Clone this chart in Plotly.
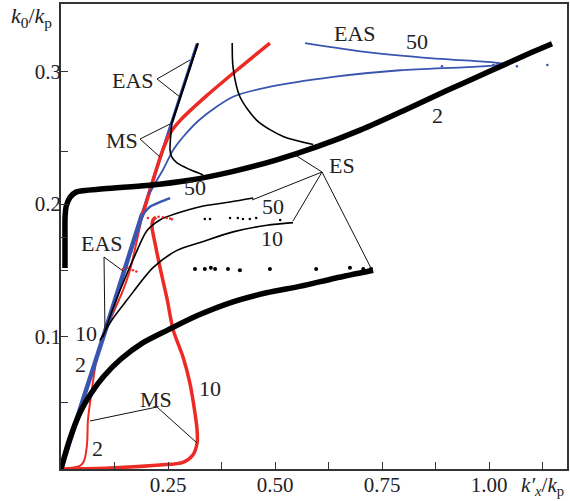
import plotly.graph_objects as go

# ---------------- data (in k'_x/k_p , k_0/k_p units) ----------------
# black ES curve "2" (upper, thick)
es2_up_x = [0.0093, 0.0093, 0.0095, 0.012, 0.021, 0.035, 0.10, 0.20, 0.30, 0.40, 0.50, 0.60, 0.70, 0.80, 0.90, 1.00, 1.10, 1.147]
es2_up_y = [0.1517, 0.173, 0.190, 0.198, 0.205, 0.209, 0.2115, 0.214, 0.218, 0.2245, 0.233, 0.2435, 0.256, 0.2705, 0.2855, 0.300, 0.3145, 0.321]

# black ES curve "2" (lower, thick)
es2_lo_x = [0.0, 0.02, 0.045, 0.07, 0.10, 0.14, 0.19, 0.25, 0.32, 0.40, 0.48, 0.56, 0.64, 0.729]
es2_lo_y = [0.0, 0.022, 0.043, 0.057, 0.070, 0.083, 0.095, 0.105, 0.116, 0.126, 0.133, 0.138, 0.144, 0.150]

# black ES "10" and "50" thin curves
es10_x = [0.091, 0.12, 0.154, 0.215, 0.271, 0.325, 0.402, 0.481, 0.542]
es10_y = [0.097, 0.113, 0.1275, 0.152, 0.165, 0.171, 0.179, 0.184, 0.186]
es50_x = [0.098, 0.120, 0.138, 0.173, 0.201, 0.231, 0.271, 0.325, 0.395, 0.449]
es50_y = [0.0996, 0.120, 0.135, 0.1615, 0.180, 0.188, 0.193, 0.198, 0.2015, 0.2045]

# black thin curve at top (joining the thick "2" curve)
es_top_x = [0.400, 0.402, 0.418, 0.458, 0.519, 0.589]
es_top_y = [0.3215, 0.303, 0.281, 0.263, 0.251, 0.245]

# black EAS line and its MS continuation
eas_blk_x = [0.320, 0.259]
eas_blk_y = [0.3215, 0.261]
ms_blk_x = [0.259, 0.2547, 0.258, 0.271, 0.301, 0.332]
ms_blk_y = [0.261, 0.2408, 0.236, 0.231, 0.226, 0.222]

# black numerical dots
dots_a_x = [0.313, 0.336, 0.350, 0.360, 0.390, 0.418, 0.488, 0.596, 0.675, 0.706, 0.724]
dots_a_y = [0.151, 0.151, 0.152, 0.151, 0.151, 0.150, 0.151, 0.151, 0.152, 0.151, 0.151]
dots_b_x = [0.336, 0.348, 0.395, 0.413, 0.425, 0.441, 0.456, 0.512]
dots_b_y = [0.1887, 0.1887, 0.1894, 0.1894, 0.1887, 0.1887, 0.1894, 0.1880]

# blue EAS lines "2"/"10" (straight, thick lower part)
eas_lin_thick_x = [0.0, 0.05, 0.10, 0.15, 0.19]
eas_lin_thick_y = [0.0, 0.051, 0.101, 0.152, 0.193]
eas_lin_thin_x = [0.19, 0.25, 0.318]
eas_lin_thin_y = [0.193, 0.253, 0.321]

# blue EAS "50" short branch
eas50s_x = [0.185, 0.196, 0.208, 0.231, 0.255]
eas50s_y = [0.188, 0.194, 0.198, 0.2015, 0.2045]

# blue EAS "50" long curve (loop to the right)
eas50_x = [0.205, 0.224, 0.238, 0.262, 0.285, 0.325, 0.402, 0.481, 0.636, 0.792, 0.949, 1.026, 1.033, 1.009, 0.869, 0.715, 0.570]
eas50_y = [0.207, 0.218, 0.2257, 0.2408, 0.2506, 0.264, 0.281, 0.288, 0.296, 0.301, 0.3034, 0.305, 0.306, 0.307, 0.310, 0.3147, 0.3215]
blue_dots_x = [0.890, 1.010, 1.020, 1.065, 1.136]
blue_dots_y = [0.304, 0.305, 0.306, 0.304, 0.305]

# red MS "2" (thin lower part, thick upper part)
ms2_thin_x = [0.0, 0.044, 0.052, 0.056, 0.061, 0.063, 0.072, 0.084, 0.098, 0.145, 0.161, 0.189]
ms2_thin_y = [0.0, 0.0023, 0.005, 0.0083, 0.0196, 0.037, 0.0596, 0.0845, 0.0996, 0.135, 0.150, 0.190]
ms2_thick_x = [0.189, 0.215, 0.238, 0.255, 0.278, 0.341, 0.418, 0.488]
ms2_thick_y = [0.190, 0.218, 0.241, 0.2536, 0.263, 0.282, 0.303, 0.3215]
red_flat_x = [0.0, 0.03, 0.06, 0.09, 0.114]
red_flat_y = [0.0, 0.0005, 0.0008, 0.0008, 0.0008]

# red MS "10" (thick)
ms10_x = [0.0, 0.114, 0.231, 0.285, 0.308, 0.318, 0.318, 0.313, 0.301, 0.285, 0.262, 0.248, 0.231, 0.218, 0.2126, 0.215, 0.222]
ms10_y = [0.0, 0.0008, 0.003, 0.005, 0.0106, 0.0196, 0.029, 0.042, 0.065, 0.0845, 0.105, 0.128, 0.1525, 0.173, 0.1826, 0.188, 0.190]
red_dots_x = [0.203, 0.228, 0.238, 0.247, 0.255, 0.259, 0.145, 0.156, 0.168, 0.176]
red_dots_y = [0.1895, 0.1905, 0.190, 0.1895, 0.189, 0.1885, 0.151, 0.152, 0.150, 0.149]

# tick values / labels
x_tickvals = [0, 0.125, 0.25, 0.375, 0.5, 0.625, 0.75, 0.875, 1.0, 1.125]
x_ticktext = [" ", " ", "0.25", " ", "0.50", " ", "0.75", " ", "1.00",
              "<i>k′<sub>x</sub></i>/<i>k</i><sub>p</sub>"]
y_tickvals = [0.05, 0.1, 0.15, 0.175, 0.2, 0.24, 0.3]
y_ticktext = [" ", "0.1", " ", " ", "0.2", " ", "0.3"]

# ---------------- figure ----------------
W, H = 570, 501
L, R, T, B = 61, 3, 4, 32
XR = [0, 1.182]
YR = [0, 0.351]


def px2d(px, py):
    xd = XR[0] + (px - L) / (W - L - R) * (XR[1] - XR[0])
    yd = YR[0] + (H - B - py) / (H - T - B) * (YR[1] - YR[0])
    return xd, yd


BLACK = "#000000"
BLUE = "#3a55b0"
RED = "#ee2a24"
SPL = dict(shape="spline", smoothing=0.8)

fig = go.Figure()


def line(x, y, color, width):
    fig.add_trace(go.Scatter(x=x, y=y, mode="lines", line=dict(color=color, width=width, **SPL),
                             hoverinfo="skip", showlegend=False, cliponaxis=False))


def dots(x, y, color, size):
    fig.add_trace(go.Scatter(x=x, y=y, mode="markers", marker=dict(color=color, size=size),
                             hoverinfo="skip", showlegend=False))


line(red_flat_x, red_flat_y, RED, 1.5)
line(ms10_x, ms10_y, RED, 3.5)
line(ms2_thin_x, ms2_thin_y, RED, 2)
line(eas_lin_thick_x, eas_lin_thick_y, BLUE, 4.5)
line(eas_lin_thin_x, eas_lin_thin_y, BLUE, 3)
line(ms2_thick_x, ms2_thick_y, RED, 3.5)
line(eas50s_x, eas50s_y, BLUE, 2.5)
line(eas50_x, eas50_y, BLUE, 1.8)
line(es2_up_x, es2_up_y, BLACK, 5.5)
line(es2_lo_x, es2_lo_y, BLACK, 5.5)
line(es10_x, es10_y, BLACK, 1.6)
line(es50_x, es50_y, BLACK, 1.6)
line(es_top_x, es_top_y, BLACK, 1.6)
line(eas_blk_x, eas_blk_y, BLACK, 2.2)
line(ms_blk_x, ms_blk_y, BLACK, 1.6)
dots(dots_a_x, dots_a_y, BLACK, 4)
dots(dots_b_x, dots_b_y, BLACK, 2.5)
dots(blue_dots_x, blue_dots_y, BLUE, 2.5)
dots(red_dots_x, red_dots_y, RED, 2.5)

FONT = dict(family="Liberation Serif, Times New Roman, serif", size=22, color="#222222")
TFONT = dict(family="Liberation Serif, Times New Roman, serif", size=21, color="#222222")

labels = [
    ("EAS", 133, 80), ("MS", 122, 140), ("EAS", 355, 33), ("50", 417, 41),
    ("2", 437, 115), ("ES", 342, 165), ("50", 195, 187), ("50", 273, 206),
    ("10", 272, 238), ("EAS", 102, 243), ("10", 86, 333), ("2", 80, 364),
    ("MS", 156, 399), ("10", 210, 388), ("2", 97, 448), ("0", 50, 484),
]
for txt, px, py in labels:
    xd, yd = px2d(px, py)
    fig.add_annotation(x=xd, y=yd, text=txt, showarrow=False,
                       font=TFONT if txt == "0" else FONT,
                       xanchor="center", yanchor="middle")

pointers = [
    ((157, 79), (190, 60)), ((157, 79), (180, 97)),
    ((140, 139), (172, 123)), ((140, 139), (160, 157)),
    ((322, 172), (292, 153)), ((322, 172), (252, 200)), ((322, 172), (293, 221)), ((322, 172), (372, 270)),
    ((104, 257), (123, 271)), ((104, 257), (105, 333)),
    ((157, 407), (90, 421)), ((157, 407), (197, 443)),
]
for (a, b) in pointers:
    x0, y0 = px2d(*a)
    x1, y1 = px2d(*b)
    fig.add_shape(type="line", x0=x0, y0=y0, x1=x1, y1=y1, line=dict(color="#111111", width=1))

# y-axis title at the top-left
fig.add_annotation(xref="paper", yref="paper", x=(31 - L) / (W - L - R), y=(H - B - 17) / (H - T - B),
                   text="<i>k</i><sub>0</sub>/<i>k</i><sub>p</sub>", showarrow=False, font=FONT,
                   xanchor="center", yanchor="middle")

AX = dict(showline=True, linecolor="#333333", linewidth=1.5, mirror=True, ticks="inside",
          ticklen=7, tickwidth=1.2, tickcolor="#333333", showgrid=False, zeroline=False,
          tickfont=TFONT, fixedrange=True, automargin=False)

fig.update_layout(
    width=W, height=H, margin=dict(l=L, r=R, t=T, b=B),
    paper_bgcolor="white", plot_bgcolor="white",
    xaxis=dict(range=XR, tickmode="array", tickvals=x_tickvals, ticktext=x_ticktext,
               ticklabelstandoff=-4, **AX),
    yaxis=dict(range=YR, tickmode="array", tickvals=y_tickvals, ticktext=y_ticktext,
               ticklabelstandoff=-6, **AX),
)

fig.write_html("out.html", config={"displayModeBar": False},
               post_script="document.body.style.margin='0';document.body.style.overflow='hidden';")
